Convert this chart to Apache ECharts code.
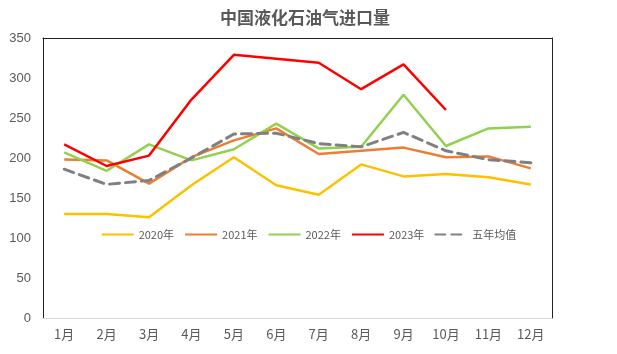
<!DOCTYPE html>
<html><head><meta charset="utf-8">
<script src="https://cdn.jsdelivr.net/npm/echarts@6/dist/echarts.min.js"></script>
<style>html,body{margin:0;padding:0;background:#fff}#c{width:617px;height:354px}</style>
</head><body><div id="c"></div>
<script>
const categories = ['1月','2月','3月','4月','5月','6月','7月','8月','9月','10月','11月','12月'];
const y2020 = [130,130,126,166,201,166,154,192,177,180,176,167];
const y2021 = [198,197,168,201,222,237,205,209,213,201,202,187];
const y2022 = [207,184,217,197,211,243,212,214,279,215,237,239];
const y2023 = [217,190,203,273,329,324,319,286,317,260];
const avg5 = [186,167,172,200,230,231,218,214,232,209,198,194];
const yTicks = [0,50,100,150,200,250,300,350];

const chart = echarts.init(document.getElementById('c'));
function line(name, data, color, dashed) {
  return {name, type:'line', data, symbol:'none', showSymbol:false, smooth:false,
    lineStyle:{color, width: dashed ? 3 : 2.5, type: dashed ? [10,6] : 'solid', cap: dashed ? 'round' : 'butt'},
    itemStyle:{color}};
}
chart.setOption({
  animation:false,
  title:{text:'中国液化石油气进口量', left:300, textAlign:'center', top:4,
    textStyle:{fontFamily:'Noto Sans CJK SC', fontWeight:'bold', fontSize:17, color:'#595959'}},
  legend:{top:224, left:'center', itemWidth:32, itemHeight:3, itemGap:10,
    itemStyle:{opacity:0},
    textStyle:{fontSize:11, color:'#595959', fontFamily:'Noto Sans CJK SC'},
    data:['2020年','2021年','2022年','2023年','五年均值']},
  grid:{left:43, right:65, top:38, bottom:36},
  xAxis:[{type:'category', data:categories, boundaryGap:true,
    axisLine:{lineStyle:{color:'#d9d9d9', width:1}}, axisTick:{show:false},
    axisLabel:{color:'#595959', fontSize:13, margin:10, fontFamily:'Noto Sans CJK SC'}},
    {type:'category', data:categories, position:'top', axisLine:{show:true, onZero:false, lineStyle:{color:'#222'}},
     axisTick:{show:false}, axisLabel:{show:false}}],
  yAxis:[{type:'value', min:0, max:350, interval:50,
    axisLine:{show:true, lineStyle:{color:'#222'}}, axisTick:{show:false}, splitLine:{show:false},
    axisLabel:{color:'#595959', fontSize:13, margin:12, fontFamily:'Liberation Sans',
      formatter:v=> yTicks.includes(v) ? String(v) : ''}},
    {type:'value', min:0, max:350, interval:50, position:'right',
    axisLine:{show:true, onZero:false, lineStyle:{color:'#222'}}, axisTick:{show:false}, splitLine:{show:false}, axisLabel:{show:false}}],
  series:[
    line('2020年', y2020, '#FFC000'),
    line('2021年', y2021, '#ED7D31'),
    line('2022年', y2022, '#92D050'),
    line('2023年', y2023, '#FF0000'),
    line('五年均值', avg5, '#808080', true)
  ]
});
</script></body></html>
